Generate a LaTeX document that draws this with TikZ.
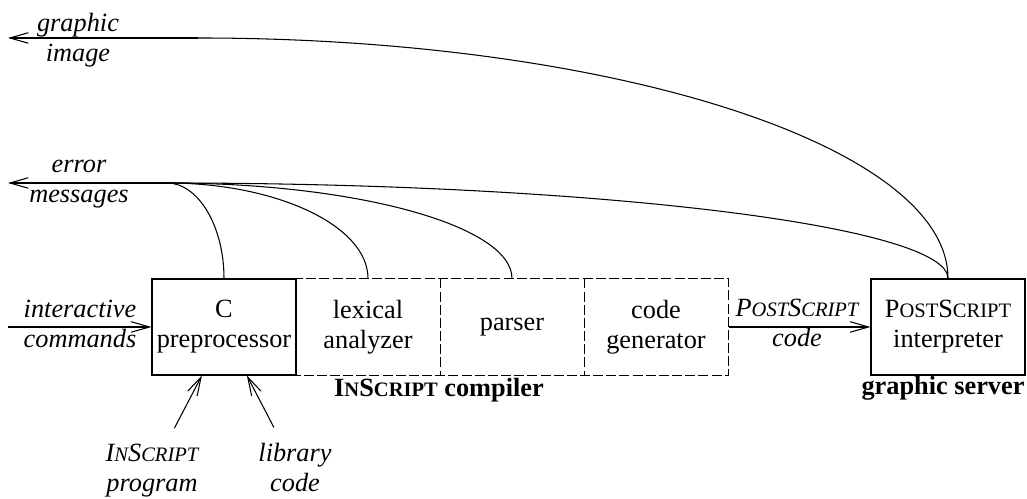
\documentclass[tikz,border=0pt]{standalone}
\usepackage{fontspec}
\setmainfont{Liberation Serif}
\usetikzlibrary{arrows.meta}

\newcommand{\nf}{\fontsize{10}{11.4}\selectfont}
\newcommand{\smc}[1]{{\fontsize{7.8}{9}\selectfont #1}}
\newcommand{\inscript}{I\smc{N}S\smc{CRIPT}}
\newcommand{\postscript}{P\smc{OST}S\smc{CRIPT}}

\tikzset{
  arr/.style={-{Straight Barb[length=7pt,width=4pt]}},
  stage/.style={minimum width=54.72pt,minimum height=36.48pt,inner sep=0pt,align=center},
  lbl/.style={align=center,font=\nf\itshape,anchor=base},
  title/.style={font=\nf\bfseries,anchor=base},
  phase/.style={dash pattern=on 3.8pt off 1.2pt}
}

\begin{document}
\begin{tikzpicture}[x=0.38pt,y=0.38pt,font=\nf]
\useasboundingbox (0,0) rectangle (1027,499);
% compiler
\node[stage] (lex) at (368,172) {lexical\\analyzer};
\node[stage] (par) at (512,172) {parser};
\node[stage] (gen) at (656,172) {code\\generator};
\draw[phase] (lex.north west) rectangle (gen.south east);
\draw[phase] (lex.north east) -- (lex.south east);
\draw[phase] (par.north east) -- (par.south east);
\node[stage,draw] (cpp) at (224,172) {C\\preprocessor};
\node[title] (cmp) at (439,102) {\inscript{} compiler};
% server
\node[stage,draw,minimum width=58.52pt] (int) at (948,172) {\postscript\\interpreter};
\node[title] (srv) at (943,104) {graphic server};
% inputs
\coordinate (cmdin) at (8,172);
\draw[arr] (cmdin) -- (cpp.west);
\node[lbl] (cmd) at (80,151) {interactive\\commands};
\node[lbl] (prg) at (152,7) {\inscript\\program};
\node[lbl] (lib) at (295,7) {library\\code};
\draw[arr,shorten <=3pt] (prg) -- ([xshift=-8.4pt]cpp.south);
\draw[arr,shorten <=3pt] (lib) -- ([xshift=8.7pt]cpp.south);
% PostScript code
\draw[arr] (gen.east) -- (int.west);
\node[lbl] (psc) at (797,152) {\postscript\\code};
% error messages
\coordinate (errj) at (167,316);
\coordinate (errout) at (8,316);
\draw[arr] (errj) -- (errout);
\node[lbl] (err) at (79,296) {error\\messages};
\draw (cpp.north) to[out=90,in=0,out distance=20pt,in distance=11.8pt] (errj);
\draw (lex.north) to[out=90,in=0,out distance=20pt,in distance=41.8pt] (errj);
\draw (par.north) to[out=90,in=0,out distance=20pt,in distance=72.2pt] (errj);
\draw (int.north) to[out=90,in=0,out distance=20pt,in distance=163pt] (errj);
% graphic image
\coordinate (imgj) at (198,461);
\coordinate (imgout) at (8,461);
\draw (int.north) to[out=90,in=0,out distance=50.5pt,in distance=157pt] (imgj);
\draw[arr] (imgj) -- (imgout);
\node[lbl] (img) at (78,437) {graphic\\image};
\end{tikzpicture}
\end{document}
